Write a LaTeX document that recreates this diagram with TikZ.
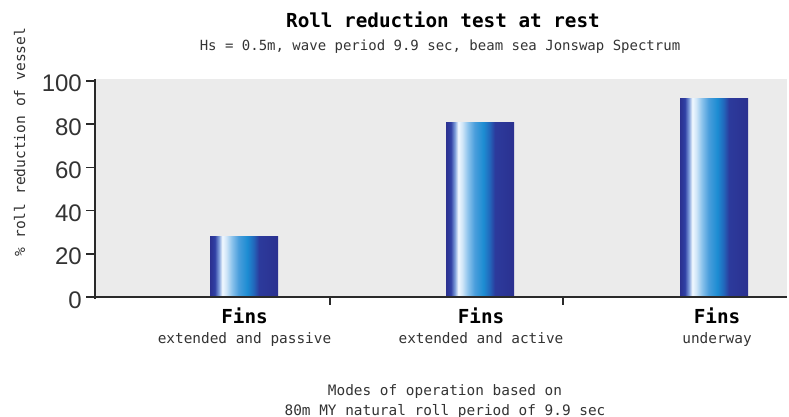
\documentclass[tikz,border=0pt]{standalone}
\usepackage{fontspec}
\setmainfont{DejaVu Sans Mono}
\newfontfamily\ticksfont{Liberation Sans}

\definecolor{plotgrey}{HTML}{EBEBEB}
\definecolor{axisgrey}{HTML}{2A2A2A}
\definecolor{textgrey}{HTML}{333333}
\definecolor{finnavy}{HTML}{2B3190}
\definecolor{finnavyb}{HTML}{3040A4}
\definecolor{finpale}{HTML}{7E9EDA}
\definecolor{finwhite}{HTML}{F0F8FF}
\definecolor{finice}{HTML}{CFE5F7}
\definecolor{finlight}{HTML}{8CC3EC}
\definecolor{finmid}{HTML}{4A9EDC}
\definecolor{fincyan}{HTML}{1C8CD2}
\definecolor{findeep}{HTML}{2268BC}
\definecolor{findark}{HTML}{2C3A9C}
\pgfdeclarehorizontalshading{finbar}{100bp}{color(0bp)=(finnavy); color(25bp)=(finnavy);
	color(28.5bp)=(finnavyb); color(31.5bp)=(finpale); color(34bp)=(finwhite);
	color(37bp)=(finice); color(41bp)=(finlight); color(46bp)=(finmid);
	color(52.5bp)=(fincyan); color(57bp)=(findeep); color(61bp)=(findark);
	color(75bp)=(finnavy); color(100bp)=(finnavy)}

\begin{document}
\begin{tikzpicture}[x=1pt, y=-1pt,
		ticklabel/.style={anchor=base east, inner sep=0pt, text=textgrey, font=\ticksfont\fontsize{24}{24}\selectfont},
		finlabel/.style={anchor=base, inner sep=0pt, font=\bfseries\fontsize{19.3}{20}\selectfont},
		modelabel/.style={anchor=base, inner sep=0pt, text=textgrey, font=\fontsize{14.4}{16}\selectfont}]
	\useasboundingbox (0,0) rectangle (789,417);

	\fill[plotgrey] (96,79) rectangle (787,297);
	\foreach \val/\xl in {28/210, 81/446, 92/680}
		\shade[shading=finbar] (\xl,297) rectangle ({\xl+68},{297-2.16*\val});

	\draw[axisgrey, line width=1.6pt] (95,79) -- (95,299);
	\draw[axisgrey, line width=1.6pt] (86,297) -- (787,297);
	\foreach \val in {0,20,...,100} {
		\draw[axisgrey, line width=1.6pt] (86,{297-2.16*\val}) -- (95,{297-2.16*\val});
		\node[ticklabel] (tick\val) at (82,{308-2.16*\val}) {\val};
	}
	\foreach \xt in {330,563}
		\draw[axisgrey, line width=1.6pt] (\xt,297) -- (\xt,305);

	\node[anchor=base, inner sep=0pt, font=\bfseries\fontsize{19.3}{20}\selectfont] (title) at (443,28) {Roll reduction test at rest};
	\node[anchor=base, inner sep=0pt, text=textgrey, font=\fontsize{14}{16}\selectfont] (subtitle) at (440,51) {Hs = 0.5m, wave period 9.9 sec, beam sea Jonswap Spectrum};
	\node[rotate=90, anchor=base, inner sep=0pt, text=textgrey, font=\fontsize{14.6}{16}\selectfont] (ylabel) at (25,142) {\% roll reduction of vessel};

	\foreach \n/\xc/\mode in {1/244.5/extended and passive, 2/481/extended and active, 3/717/underway} {
		\node[finlabel] (fins\n) at (\xc,323) {Fins};
		\node[modelabel] (mode\n) at (\xc,343) {\mode};
	}

	\node[modelabel] (note1) at (445,395) {Modes of operation based on};
	\node[modelabel] (note2) at (445,415) {80m MY natural roll period of 9.9 sec};
\end{tikzpicture}
\end{document}
